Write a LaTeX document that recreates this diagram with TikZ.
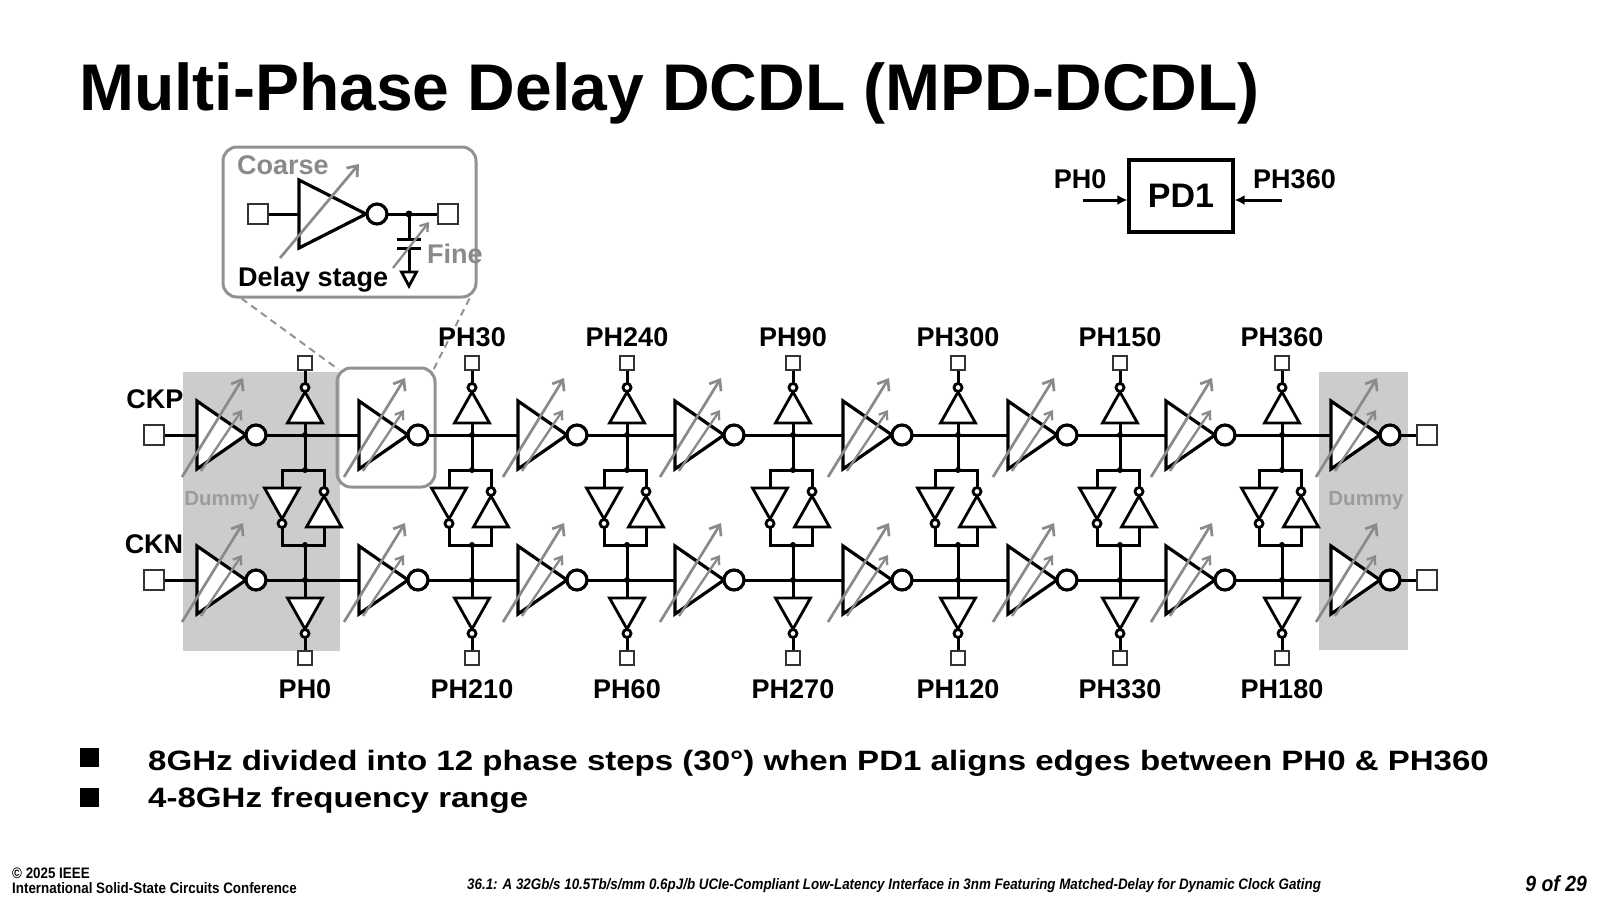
\documentclass[tikz,border=0pt]{standalone}
\usepackage{fontspec}
\setmainfont{Liberation Sans}
\newfontfamily\widefont[FakeStretch=1.18]{Liberation Sans}
\newfontfamily\narrowfont[FakeStretch=0.88]{Liberation Sans}
\usetikzlibrary{arrows.meta,calc,positioning}
\definecolor{dummygray}{HTML}{CCCCCC}
\definecolor{tunegray}{HTML}{8A8A8A}
\definecolor{boxgray}{HTML}{929292}
\definecolor{dummytext}{HTML}{9C9C9C}
\definecolor{pindark}{HTML}{333333}
\tikzset{
  wire/.style={line width=3pt},
  cell/.style={line width=3.2pt, fill=white},
  inv/.style={line width=2.8pt, fill=white},
  tune/.style={draw=tunegray, line width=2.7pt, -{Straight Barb[length=9pt,width=14pt]}},
  tunes/.style={draw=tunegray, line width=2.3pt, -{Straight Barb[length=7pt,width=10pt]}},
  padsq/.style={draw=pindark, line width=2.1pt, fill=white, minimum size=13.5pt, inner sep=0pt},
  bigpad/.style={padsq, line width=2.3pt, minimum size=20pt},
  hl/.style={draw=boxgray, line width=3pt, rounded corners=14pt, inner sep=0pt},
  lead/.style={draw=boxgray, line width=2pt, dash pattern=on 7pt off 5pt},
  lbl/.style={font=\bfseries\fontsize{27}{30}\selectfont, inner sep=0pt, anchor=base},
  note/.style={lbl, text=tunegray},
  dummytxt/.style={font=\bfseries\fontsize{20.5}{24}\selectfont, text=dummytext, inner sep=0pt, anchor=base},
  pdbox/.style={draw, line width=3.2pt, minimum width=104pt, minimum height=72pt, inner sep=0pt,
    font=\bfseries\fontsize{34}{38}\selectfont},
  pdarrow/.style={line width=3pt, -{Latex[length=10pt,width=10pt]}},
  bulletsq/.style={fill=black, minimum size=19pt, inner sep=0pt},
  bullet/.style={font=\widefont\bfseries\fontsize{28}{32}\selectfont, inner sep=0pt, anchor=base west},
  foot/.style={font=\narrowfont\bfseries\fontsize{15.2}{17}\selectfont, inner sep=0pt},
}
% tap inverters (base y, pointing up / down)
\newcommand\invup[2]{%
  \draw[inv] (#1-17.5,#2) -- (#1+17.5,#2) -- (#1,#2-31) -- cycle;
  \draw[inv] (#1,#2-35.5) circle (4pt);}
\newcommand\invdn[2]{%
  \draw[inv] (#1-17.5,#2) -- (#1+17.5,#2) -- (#1,#2+31) -- cycle;
  \draw[inv] (#1,#2+35.5) circle (4pt);}
% delay stage (left edge x, rail y)
\newcommand\dstage[2]{%
  \draw[cell] (#1,#2-34) -- (#1+49,#2) -- (#1,#2+34) -- cycle;
  \draw[cell] (#1+59,#2) circle (10pt);
  \draw[tune] (#1-15,#2+42) -- (#1+46,#2-57);
  \draw[tunes] (#1+4,#2+36) -- (#1+45,#2-25);}

\begin{document}
\begin{tikzpicture}[x=1pt,y=-1pt]
\useasboundingbox[fill=white] (0,0) rectangle (1600,900);

\node[anchor=base west, inner sep=0pt, font=\bfseries\fontsize{66}{70}\selectfont] (title) at (79,110)
  {Multi-Phase Delay DCDL (MPD-DCDL)};

% dummy stages
\fill[dummygray] (183,372) rectangle (340,651);
\fill[dummygray] (1319,372) rectangle (1408,650);
\node[dummytxt] (dml) at (222,505.5) {Dummy};
\node[dummytxt] (dmr) at (1366,505.5) {Dummy};

% zoomed delay stage
\node[hl, minimum width=98pt, minimum height=119pt] (zoom) at (386,427.5) {};
\node[hl, minimum width=253pt, minimum height=150pt] (inset) at (349.5,222) {};
\draw[lead] ($(inset.south west)+(20,0)$) -- ($(zoom.north west)+(3,3)$);
\draw[lead] ($(inset.south east)+(-8,0)$) -- ($(zoom.north east)+(-3,3)$);

\node[bigpad] (cin) at (258,214) {};
\node[bigpad] (cout) at (448,214) {};
\coordinate (cdot) at (409,214);
\coordinate (ctop) at (409,239);
\coordinate (cbot) at (409,248);
\coordinate (cgnd) at (409,272);
\draw[wire] (cin) -- (cout);
\draw[cell] (299,180) -- (366,214) -- (299,248) -- cycle;
\draw[cell] (377,214) circle (10pt);
\fill (cdot) circle (3.5pt);
\draw[wire] (cdot) -- (ctop) (cbot) -- (cgnd);
\draw[wire] ($(ctop)+(-12,0)$) -- ($(ctop)+(12,0)$) ($(cbot)+(-12,0)$) -- ($(cbot)+(12,0)$);
\draw[inv] ($(cgnd)+(-7.5,0)$) -- ($(cgnd)+(7.5,0)$) -- ($(cgnd)+(0,14)$) -- cycle;
\draw[tunes] (393,268) -- (429,222);
\draw[tune] (280,258) -- (359,164);
\node[note, anchor=base west] (coarse) at (237,174) {Coarse};
\node[note, anchor=base west] (fine) at (427,263) {Fine};
\node[lbl, anchor=base west] (dlabel) at (238,286.5) {Delay stage};

% clock rails
\node[bigpad] (ckpin) at (154,435) {};
\node[bigpad] (ckpout) at (1427,435) {};
\node[bigpad] (cknin) at (154,580) {};
\node[bigpad] (cknout) at (1427,580) {};
\draw[wire] (ckpin) -- (ckpout);
\draw[wire] (cknin) -- (cknout);
\node[lbl] (ckp) at (155,408) {CKP};
\node[lbl] (ckn) at (154,553) {CKN};

% phase taps
\foreach \x/\ulab/\dlab [count=\i] in {305//PH0, 472/PH30/PH210, 627/PH240/PH60,
    793/PH90/PH270, 958/PH300/PH120, 1120/PH150/PH330, 1282/PH360/PH180}{
  \coordinate (jt\i) at (\x,435);
  \coordinate (ja\i) at (\x,470);
  \coordinate (jc\i) at (\x,545);
  \coordinate (jb\i) at (\x,580);
  \node[padsq] (tt\i) at (\x,363) {};
  \node[padsq] (tb\i) at (\x,658) {};
  \draw[wire] (tt\i) -- (jt\i) -- (ja\i);
  \draw[wire] (jc\i) -- (jb\i) -- (tb\i);
  \draw[wire] ($(ja\i)+(-23,0)$) rectangle ($(jc\i)+(19,0)$);
  \invup{\x}{423}
  \invdn{\x-23}{488}
  \invup{\x+19}{527}
  \invdn{\x}{598}
  \foreach \j in {jt,ja,jc,jb} \fill (\j\i) circle (3pt);
  \node[lbl] (lt\i) at (\x,346.5) {\ulab};
  \node[lbl] (lb\i) at (\x,698) {\dlab};
}

% delay stages
\foreach \x in {197,359,518,675,843,1008,1166,1331}
  \foreach \y in {435,580} {\dstage{\x}{\y}}

% phase detector
\node[pdbox] (pd) at (1181,196) {PD1};
\coordinate (pdl) at (1083,200);
\coordinate (pdr) at (1282,200);
\draw[pdarrow] (pdl) -- (pdl -| pd.west);
\draw[pdarrow] (pdr) -- (pdr -| pd.east);
\node[lbl] (pd0) at (1080,188) {PH0};
\node[lbl] (pd360) at (1294.5,188) {PH360};

% bullets
\node[bulletsq] (b1) at (89.5,757.5) {};
\node[bulletsq] (b2) at (89.5,797.5) {};
\node[bullet] (t1) at (148,770) {8GHz divided into 12 phase steps (30°) when PD1 aligns edges between PH0 \& PH360};
\node[bullet] (t2) at (148,807) {4-8GHz frequency range};

% footer
\node[foot, anchor=base west] (f1) at (12,878.5) {© 2025 IEEE};
\node[foot, anchor=base west] (f2) at (12,893.5) {International Solid-State Circuits Conference};
\node[foot, anchor=base west, font=\narrowfont\bfseries\itshape\fontsize{15.2}{17}\selectfont] (f3) at (467,889.5)
  {36.1: A 32Gb/s 10.5Tb/s/mm 0.6pJ/b UCIe-Compliant Low-Latency Interface in 3nm Featuring Matched-Delay for Dynamic Clock Gating};
\node[foot, anchor=base east, font=\narrowfont\bfseries\itshape\fontsize{22}{24}\selectfont] (f4) at (1587,891) {9 of 29};
\end{tikzpicture}
\end{document}
